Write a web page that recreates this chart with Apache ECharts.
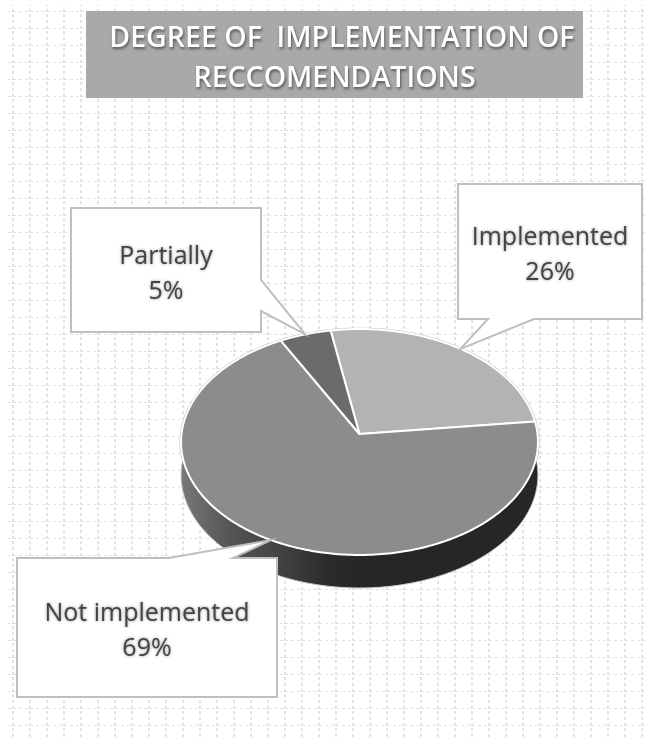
<!DOCTYPE html>
<html>
<head>
<meta charset="utf-8">
<style>html,body{margin:0;padding:0;background:#fff}#chart{width:647px;height:739px}</style>
<script src="https://cdn.jsdelivr.net/npm/echarts@6/dist/echarts.min.js"></script>
</head>
<body>
<div id="chart"></div>
<script>
// Survey results, clockwise from the first slice
const categories = ['Implemented', 'Not implemented', 'Partially'];
const values = [26, 69, 5];
const sliceColors = ['#b3b3b3', '#8c8c8c', '#6b6b6b'];
const titleText = '  DEGREE OF  IMPLEMENTATION OF\nRECCOMENDATIONS';

// Callout boxes: rectangle plus the two points where the pointer leaves its edge
const calloutBoxes = [
  { x0: 458, y0: 184, x1: 642, y1: 319, from: [534, 319], to: [488, 319], insertAfter: 2 },
  { x0: 17, y0: 558, x1: 277, y1: 697, from: [169, 558], to: [233, 558], insertAfter: 0 },
  { x0: 71, y0: 208, x1: 261, y1: 332, from: [261, 280], to: [261, 311], insertAfter: 1 }
];

// Tilted disc: projective view of a unit circle
const disc = { cx: 359.5, cy: 434, rx: 178, ry: 112.4, persp: 0.0708, depth: 33, startDeg: -10 };
const total = values.reduce((a, b) => a + b, 0);

function rimPoint(deg, grow) {
  const a = deg * Math.PI / 180;
  const u = Math.sin(a), v = -Math.cos(a);
  const s = 1 / (1 - disc.persp * v);
  return [disc.cx + (disc.rx + (grow || 0)) * u * s, disc.cy + (disc.ry + (grow || 0)) * v * s];
}
function rimArc(from, to, grow) {
  const pts = [];
  const n = Math.max(2, Math.ceil(Math.abs(to - from)));
  for (let i = 0; i <= n; i++) pts.push(rimPoint(from + (to - from) * i / n, grow));
  return pts;
}
function sliceRange(i) {
  let acc = 0;
  for (let k = 0; k < i; k++) acc += values[k];
  const a0 = disc.startDeg + acc / total * 360;
  return [a0, a0 + values[i] / total * 360];
}

// Side wall and thin outer edge of the disc
function renderWall() {
  const front = rimArc(84, 276, 0);
  const lower = front.map(p => [p[0], p[1] + disc.depth]).reverse();
  const wallFill = new echarts.graphic.LinearGradient(0, 0, 1, 0, [
    { offset: 0, color: '#7a7a7a' },
    { offset: 0.13, color: '#565656' },
    { offset: 0.29, color: '#404040' },
    { offset: 0.42, color: '#2b2b2b' },
    { offset: 0.5, color: '#262626' },
    { offset: 1, color: '#262626' }
  ]);
  return {
    type: 'group',
    children: [
      { type: 'polygon', shape: { points: rimArc(0, 360, 1.5) }, style: { fill: '#bcbcbc' } },
      {
        type: 'polygon',
        shape: { points: front.concat(lower) },
        style: { fill: wallFill, stroke: '#c8c8c8', lineWidth: 1 }
      }
    ]
  };
}

// Top face wedges
function renderSlice(params) {
  const [a0, a1] = sliceRange(params.dataIndex);
  const pts = [[disc.cx, disc.cy]].concat(rimArc(a0, a1, 0));
  return {
    type: 'polygon',
    shape: { points: pts },
    style: { fill: sliceColors[params.dataIndex], stroke: '#ffffff', lineWidth: 2, lineJoin: 'round' }
  };
}

// Callout box with pointer at the rim middle of its slice, and its label
function renderCallout(params) {
  const i = params.dataIndex;
  const b = calloutBoxes[i];
  const [a0, a1] = sliceRange(i);
  const tip = rimPoint((a0 + a1) / 2);
  const corners = [[b.x0, b.y0], [b.x1, b.y0], [b.x1, b.y1], [b.x0, b.y1]];
  const pts = [];
  corners.forEach((c, k) => {
    pts.push(c);
    if (k === b.insertAfter) pts.push(b.from, tip, b.to);
  });
  const textStyle = {
    font: '25px "Open Sans"',
    fill: '#444444',
    textAlign: 'center',
    textVerticalAlign: 'middle',
    textShadowColor: 'rgba(0,0,0,0.45)',
    textShadowBlur: 3,
    textShadowOffsetX: 0,
    textShadowOffsetY: 0
  };
  const mx = (b.x0 + b.x1) / 2, my = (b.y0 + b.y1) / 2;
  return {
    type: 'group',
    children: [
      {
        type: 'polygon',
        shape: { points: pts },
        style: { fill: '#ffffff', stroke: '#bfbfbf', lineWidth: 2, lineJoin: 'miter' }
      },
      {
        type: 'text',
        style: Object.assign({ text: categories[i], x: mx, y: my - 13.5 }, textStyle)
      },
      {
        type: 'text',
        style: Object.assign({ text: values[i] + '%', x: mx, y: my + 21.5 }, textStyle)
      }
    ]
  };
}

// Dotted grid tile for the page background
const tileSize = 17;
const tile = document.createElement('canvas');
tile.width = tile.height = tileSize;
const ctx = tile.getContext('2d');
ctx.fillStyle = '#e3e3e3';
[0, 5.67, 11.33].forEach(d => {
  ctx.fillRect(12, (Math.round(d) + 3) % tileSize, 2, 3);
  ctx.fillRect((Math.round(d) + 2) % tileSize, 11, 3, 1);
});

const chart = echarts.init(document.getElementById('chart'), null, { renderer: 'canvas' });
chart.setOption({
  animation: false,
  backgroundColor: { image: tile, repeat: 'repeat' },
  title: {
    text: titleText,
    left: 334.5,
    top: 19,
    padding: 0,
    textAlign: 'center',
    textStyle: {
      fontFamily: '"Open Sans"',
      fontSize: 28.5,
      fontWeight: 600,
      lineHeight: 40,
      color: '#ffffff',
      textShadowColor: 'rgba(0,0,0,0.5)',
      textShadowBlur: 3,
      textShadowOffsetX: 1,
      textShadowOffsetY: 2
    }
  },
  graphic: [
    { type: 'rect', silent: true, shape: { x: 0, y: 0, width: 8, height: 739 }, style: { fill: '#fff' } },
    { type: 'rect', silent: true, shape: { x: 0, y: 0, width: 647, height: 5 }, style: { fill: '#fff' } },
    { type: 'rect', silent: true, shape: { x: 86, y: 11, width: 497, height: 87 }, style: { fill: '#a9a9a9' } }
  ],
  series: [
    { type: 'custom', coordinateSystem: 'none', silent: true, z: 1, data: [0], renderItem: renderWall },
    { type: 'custom', coordinateSystem: 'none', silent: true, z: 2, data: values, renderItem: renderSlice },
    { type: 'custom', coordinateSystem: 'none', silent: true, z: 3, data: values, renderItem: renderCallout }
  ]
});
</script>
</body>
</html>
